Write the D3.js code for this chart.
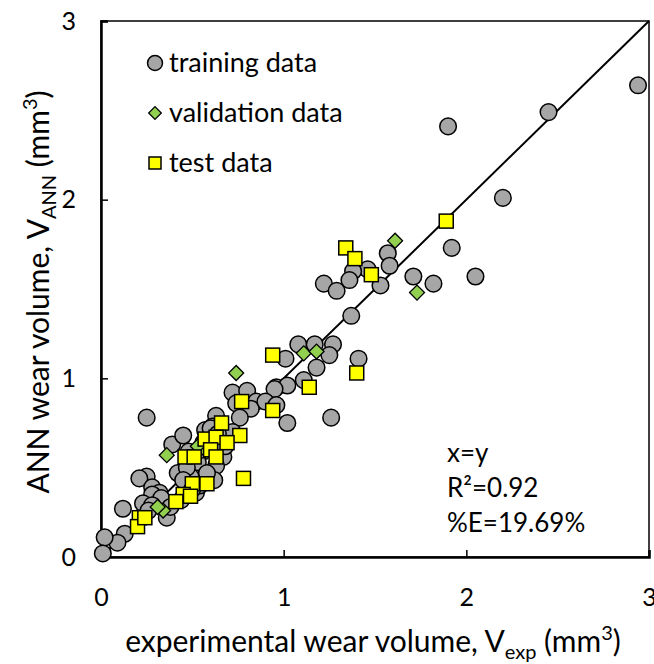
<!DOCTYPE html>
<html><head><meta charset="utf-8">
<script src="https://cdn.jsdelivr.net/npm/d3@7"></script>
<style>body{margin:0;background:#fff}svg text{font-family:Lato,"Open Sans",sans-serif;fill:#000}</style>
</head><body><div id="c"></div>
<script>
const training = [[2.94,2.64],[2.45,2.49],[1.90,2.41],[2.20,2.01],[1.92,1.73],[2.05,1.57],[1.82,1.53],[1.71,1.57],[1.57,1.70],[1.58,1.63],[1.46,1.61],[1.38,1.60],[1.36,1.55],[1.22,1.53],[1.29,1.49],[1.53,1.52],[1.37,1.35],
[1.08,1.19],[1.17,1.19],[1.27,1.19],[1.25,1.13],[1.18,1.06],[1.01,1.11],[1.41,1.11],[0.96,0.95],[1.02,0.96],[1.11,0.99],[1.26,0.78],[1.02,0.75],
[0.95,0.94],[0.72,0.92],[0.80,0.93],[0.85,0.87],[0.74,0.86],[0.82,0.83],[0.90,0.87],[0.96,0.85],[0.76,0.78],[0.63,0.79],[0.61,0.73],
[0.25,0.78],[0.57,0.71],[0.60,0.72],[0.67,0.56],[0.63,0.51],[0.62,0.43],[0.53,0.53],[0.42,0.47],[0.39,0.63],[0.45,0.68],[0.49,0.45],[0.47,0.50],[0.55,0.60],[0.58,0.47],
[0.68,0.62],[0.72,0.70],[0.56,0.64],[0.48,0.59],[0.64,0.69],[0.52,0.36],[0.54,0.40],
[0.25,0.45],[0.21,0.44],[0.28,0.39],[0.32,0.36],[0.28,0.35],[0.33,0.33],[0.23,0.30],[0.28,0.29],[0.12,0.27],[0.26,0.26],[0.36,0.22],[0.13,0.13],[0.09,0.08],[0.02,0.11],[0.01,0.02],[0.38,0.28],[0.45,0.43],[0.50,0.38],[0.44,0.32]];
const validation = [[1.61,1.77],[1.73,1.48],[1.11,1.14],[1.18,1.15],[0.74,1.03],[0.36,0.57],[0.53,0.62],[0.58,0.59],[0.34,0.26],[0.31,0.28]];
const test = [[1.34,1.73],[1.39,1.67],[1.48,1.58],[1.89,1.88],[1.40,1.03],[1.14,0.95],[0.94,1.13],[0.94,0.82],[0.77,0.87],[0.66,0.75],[0.57,0.66],[0.63,0.67],[0.76,0.68],[0.69,0.64],[0.60,0.60],[0.46,0.56],[0.51,0.56],[0.63,0.56],[0.78,0.44],[0.50,0.41],[0.58,0.41],[0.45,0.35],[0.49,0.34],[0.41,0.31],[0.21,0.22],[0.20,0.17],[0.24,0.22]];
const xTicks = [0,1,2,3];
const yTicks = [0,1,2,3];
const legendLabels = ["training data","validation data","test data"];
const annotations = ["x=y","R²=0.92","%E=19.69%"];

const W=654,H=664;
const svg=d3.select("#c").append("svg").attr("width",W).attr("height",H);
const x=d3.scaleLinear().domain([0,3]).range([101,649]);
const y=d3.scaleLinear().domain([0,3]).range([557,21]);

// frame
svg.append("rect").attr("x",x(0)).attr("y",y(3)).attr("width",x(3)-x(0)).attr("height",y(0)-y(3))
  .attr("fill","none").attr("stroke","#000").attr("stroke-width",1.5);
// axes
const xa=svg.append("g").attr("transform",`translate(0,${y(0)})`)
  .call(d3.axisBottom(x).tickValues(xTicks).tickSize(-7).tickPadding(31).tickFormat(d3.format("d")));
const ya=svg.append("g").attr("transform",`translate(${x(0)},0)`)
  .call(d3.axisLeft(y).tickValues(yTicks).tickSize(-7).tickPadding(25).tickFormat(d3.format("d")));
[xa,ya].forEach(g=>{g.select(".domain").attr("stroke","#000").attr("stroke-width",2.5);
  g.selectAll(".tick line").attr("stroke","#000").attr("stroke-width",1.5);
  g.selectAll("text").attr("font-size",25).attr("font-family","Lato");});

// y=x line
svg.append("line").attr("x1",x(0)).attr("y1",y(0)).attr("x2",x(3)).attr("y2",y(3))
  .attr("stroke","#000").attr("stroke-width",2);

// points
svg.append("g").selectAll("circle").data(training).join("circle")
  .attr("cx",d=>x(d[0])).attr("cy",d=>y(d[1])).attr("r",8.3)
  .attr("fill","#a6a6a6").attr("stroke","#000").attr("stroke-width",1.5);
const dia=d3.symbol().type(d3.symbolSquare).size(112);
svg.append("g").selectAll("path").data(validation).join("path")
  .attr("d",dia).attr("transform",d=>`translate(${x(d[0])},${y(d[1])}) rotate(45)`)
  .attr("fill","#92d050").attr("stroke","#000").attr("stroke-width",1.3);
svg.append("g").selectAll("rect").data(test).join("rect")
  .attr("x",d=>x(d[0])-7).attr("y",d=>y(d[1])-7).attr("width",14).attr("height",14)
  .attr("fill","#ffff00").attr("stroke","#000").attr("stroke-width",1.5);

// legend
const lg=svg.append("g");
const ly=[63,113,163];
lg.append("circle").attr("cx",155).attr("cy",ly[0]).attr("r",7.5).attr("fill","#a6a6a6").attr("stroke","#000").attr("stroke-width",1.5);
lg.append("path").attr("d",d3.symbol().type(d3.symbolSquare).size(80)).attr("transform",`translate(155,${ly[1]}) rotate(45)`).attr("fill","#92d050").attr("stroke","#000").attr("stroke-width",1.3);
lg.append("rect").attr("x",149).attr("y",ly[2]-6).attr("width",12).attr("height",12).attr("fill","#ffff00").attr("stroke","#000").attr("stroke-width",1.5);
legendLabels.forEach((t,i)=>lg.append("text").attr("x",169).attr("y",ly[i]+9).attr("font-size",27).text(t));

// annotations
const ay=[462,497,532];
annotations.forEach((t,i)=>svg.append("text").attr("x",447).attr("y",ay[i]).attr("font-size",26).text(t));

// axis titles
const xt=svg.append("text").attr("x",373).attr("y",652).attr("text-anchor","middle").attr("font-size",30);
xt.append("tspan").text("experimental wear volume, V");
xt.append("tspan").attr("font-size",20).attr("dy",7).text("exp");
xt.append("tspan").attr("dy",-7).text(" (mm");
xt.append("tspan").attr("font-size",20).attr("dy",-12).text("3");
xt.append("tspan").attr("dy",12).text(")");

const yt=svg.append("text").attr("transform","translate(49,292) rotate(-90)").attr("text-anchor","middle").attr("font-size",30);
yt.append("tspan").text("ANN wear volume, V");
yt.append("tspan").attr("font-size",20).attr("dy",7).text("ANN");
yt.append("tspan").attr("dy",-7).text(" (mm");
yt.append("tspan").attr("font-size",20).attr("dy",-12).text("3");
yt.append("tspan").attr("dy",12).text(")");
</script></body></html>
